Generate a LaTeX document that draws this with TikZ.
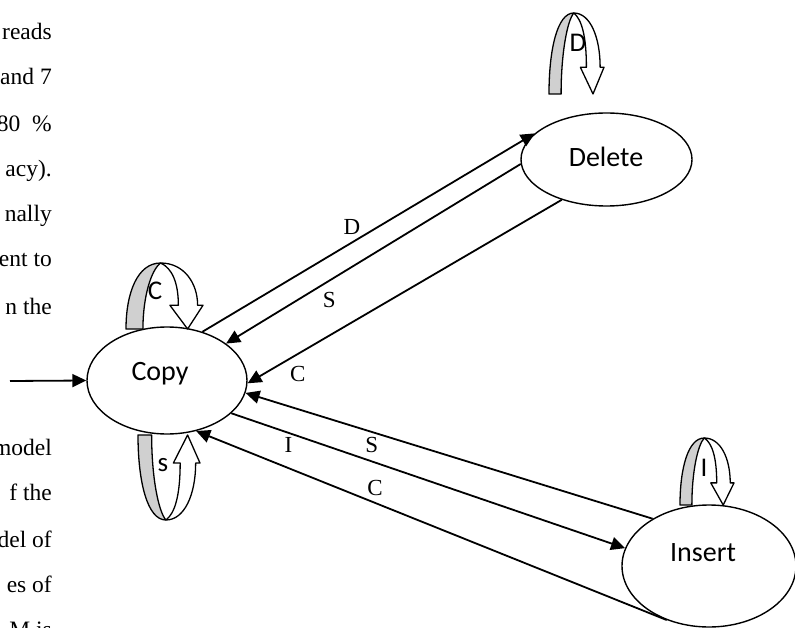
\documentclass[tikz,border=0pt]{standalone}
\usepackage{fontspec}
\setmainfont{Liberation Serif}
\newfontfamily\phasefont{Carlito}
\usepackage{tikz}
\usetikzlibrary{arrows.meta,shapes.geometric}
\definecolor{ribbon}{HTML}{D0D0D0}
\tikzset{
  phase/.style   ={ellipse,draw=black,line width=1.4pt,fill=white,inner sep=0pt},
  phasetxt/.style={font=\phasefont\fontsize{28}{30}\selectfont,inner sep=0pt},
  looptxt/.style ={font=\phasefont\fontsize{27}{29}\selectfont,inner sep=0pt},
  edgelbl/.style ={font=\fontsize{23}{25}\selectfont,inner sep=0pt},
  bodytxt/.style ={font=\fontsize{23.5}{25}\selectfont,inner sep=0pt,anchor=base east},
  flow/.style    ={-{Triangle[length=14pt,width=13pt]},line width=1.8pt,draw=black},
  loopline/.style={draw=black,line width=1.3pt,line join=round},
  pics/selfloop/.style={code={
    % shaded back of the ribbon
    \path[loopline,fill=ribbon] (0,0) .. controls (0,0.55) and (0.15,1) .. (0.45,1)
      .. controls (0.33,0.9) and (0.22,0.5) .. (0.22,0) -- cycle;
    % white front of the ribbon with its head
    \path[loopline,fill=white] (0.45,1) .. controls (0.75,1) and (0.93,0.7) .. (0.93,#1)
      -- (1,#1) -- (0.8,0) -- (0.57,#1) -- (0.68,#1)
      .. controls (0.68,0.7) and (0.6,0.92) .. (0.45,1) -- cycle;
  }}
}
\begin{document}
\begin{tikzpicture}[x=1pt,y=-1pt]
    \useasboundingbox (0,0) rectangle (795,628);
    % page text cut off at the left margin
    \foreach \txt/\yy [count=\i] in {reads/40,and 7/85,80\ \ \%/132,acy)./177,nally/222,%
        ent to/267,n the/315,model/455,f the/500,del of/547,es of/592,M is/637}
      \node[bodytxt] (body\i) at (52,\yy) {\txt};
    % states
    \node[phase,minimum width=160pt,minimum height=107pt] (copy) at (167,380.5) {};
    \node[phasetxt] (copytxt) at (160,374) {Copy};
    \node[phase,minimum width=171pt,minimum height=93pt] (delete) at (606.5,159.5) {};
    \node[phasetxt] (deletetxt) at (606,157) {Delete};
    \node[phase,minimum width=174pt,minimum height=122pt] (insert) at (709,566) {};
    \node[phasetxt] (inserttxt) at (703,553) {Insert};
    % self loops
    \pic[xscale=77,yscale=-66] (loopC) at (126,329) {selfloop=0.36};
    \node[looptxt] (loopClbl) at (155,291) {C};
    \pic[xscale=62,yscale=85] (loopS) at (138,435) {selfloop=0.33};
    \node[looptxt] (loopSlbl) at (163,465) {s};
    \pic[xscale=55,yscale=-81] (loopD) at (549,94) {selfloop=0.33};
    \node[looptxt] (loopDlbl) at (578,43) {D};
    \pic[xscale=54,yscale=-67] (loopI) at (680,505) {selfloop=0.33};
    \node[looptxt] (loopIlbl) at (704,468) {I};
    % start arrow
    \coordinate (entry) at (10,381);
    \draw[flow] (entry) -- (copy.west);
    % copy <-> delete
    \draw[flow] (copy.54) -- node[edgelbl,pos=0.45,above=7pt] (lblD) {D} (delete.160);
    \draw[flow] (delete.183) -- node[edgelbl,pos=0.65,below=11pt] (lblS1) {S} (copy.32);
    \draw[flow] (delete.222) -- node[edgelbl,pos=0.84,below=11pt] (lblC1) {C} (copy.358);
    % copy <-> insert
    \draw[flow] (insert.140) -- node[edgelbl,pos=0.69,below=4pt] (lblS2) {S} (copy.351);
    \draw[flow] (copy.333) -- node[edgelbl,pos=0.145,below=4pt] (lblI) {I} (insert.168);
    \draw[flow] (insert.232) -- node[edgelbl,pos=0.62,above=6pt] (lblC2) {C} (copy.300);
\end{tikzpicture}
\end{document}
